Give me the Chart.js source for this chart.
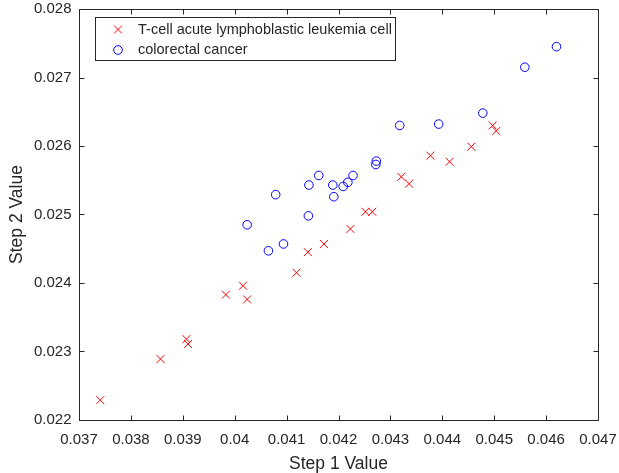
<!DOCTYPE html>
<html>
<head>
<meta charset="utf-8">
<script src="https://cdn.jsdelivr.net/npm/chart.js@4/dist/chart.umd.min.js"></script>
<style>
html, body { margin: 0; padding: 0; background: #fff; }
#wrap { width: 619px; height: 473px; position: relative; }
</style>
</head>
<body>
<div id="wrap"><canvas id="c" width="619" height="473"></canvas></div>
<script>
const seriesNames = ["T-cell acute lymphoblastic leukemia cell", "colorectal cancer"];
const leukemiaX = [0.03741, 0.03857, 0.03907, 0.03910, 0.03983, 0.04016, 0.04024, 0.04119, 0.04141, 0.04172, 0.04223, 0.04252, 0.04265, 0.04321, 0.04336, 0.04377, 0.04414, 0.04456, 0.04497, 0.04504];
const leukemiaY = [0.02229, 0.02289, 0.02318, 0.02311, 0.02383, 0.02396, 0.02376, 0.02415, 0.02445, 0.02457, 0.02479, 0.02504, 0.02504, 0.02555, 0.02545, 0.02586, 0.02577, 0.02599, 0.02630, 0.02622];
const colorectalX = [0.04024, 0.04065, 0.04094, 0.04142, 0.04079, 0.04143, 0.04162, 0.04189, 0.04191, 0.04209, 0.04218, 0.04228, 0.04272, 0.04273, 0.04318, 0.04393, 0.04478, 0.04559, 0.04620];
const colorectalY = [0.02485, 0.02447, 0.02457, 0.02498, 0.02529, 0.02543, 0.02557, 0.02543, 0.02526, 0.02541, 0.02547, 0.02557, 0.02573, 0.02578, 0.02630, 0.02632, 0.02648, 0.02715, 0.02745];
const xTicks = [0.037, 0.038, 0.039, 0.040, 0.041, 0.042, 0.043, 0.044, 0.045, 0.046, 0.047];
const yTicks = [0.022, 0.023, 0.024, 0.025, 0.026, 0.027, 0.028];
const xTitle = "Step 1 Value";
const yTitle = "Step 2 Value";

const FONT = "'Liberation Sans', Arial, Helvetica, sans-serif";
const AXIS_COLOR = "#262626";
const fmt = v => String(parseFloat(Number(v).toFixed(3)));

function pts(xs, ys) { return xs.map((x, i) => ({ x: x, y: ys[i] })); }
function noPad(s) { s.paddingLeft = 0; s.paddingRight = 0; s.paddingTop = 0; s.paddingBottom = 0; }

const boxTicksPlugin = {
  id: 'boxTicks',
  afterDatasetsDraw(chart) {
    const ctx = chart.ctx;
    const a = chart.chartArea;
    const L = Math.round(a.left) + 0.5, R = Math.round(a.right) + 0.5;
    const T = Math.round(a.top) + 0.5, B = Math.round(a.bottom) + 0.5;
    const tl = 5;
    ctx.save();
    ctx.strokeStyle = AXIS_COLOR;
    ctx.lineWidth = 1;
    ctx.beginPath();
    ctx.rect(L, T, R - L, B - T);
    const xs = chart.scales.x, ys = chart.scales.y;
    xs.ticks.forEach(t => {
      const p = Math.round(xs.getPixelForValue(t.value)) + 0.5;
      ctx.moveTo(p, B); ctx.lineTo(p, B - tl);
      ctx.moveTo(p, T); ctx.lineTo(p, T + tl);
    });
    ys.ticks.forEach(t => {
      const p = Math.round(ys.getPixelForValue(t.value)) + 0.5;
      ctx.moveTo(L, p); ctx.lineTo(L + tl, p);
      ctx.moveTo(R, p); ctx.lineTo(R - tl, p);
    });
    ctx.stroke();

    // legend box
    const bx = 95.5, by = 17.5, bw = 300, bh = 43;
    ctx.fillStyle = '#ffffff';
    ctx.fillRect(bx, by, bw, bh);
    ctx.strokeRect(bx, by, bw, bh);
    const rows = [29.5, 50];
    chart.data.datasets.forEach((ds, i) => {
      const cy = rows[i];
      ctx.strokeStyle = ds.borderColor;
      ctx.lineWidth = 1;
      ctx.beginPath();
      if (ds.pointStyle === 'crossRot') {
        const r = 3.9;
        ctx.moveTo(118 - r, cy - r); ctx.lineTo(118 + r, cy + r);
        ctx.moveTo(118 - r, cy + r); ctx.lineTo(118 + r, cy - r);
      } else {
        ctx.arc(118, cy, ds.pointRadius, 0, Math.PI * 2);
      }
      ctx.stroke();
      ctx.fillStyle = AXIS_COLOR;
      ctx.font = "14.5px " + FONT;
      ctx.textBaseline = 'middle';
      ctx.textAlign = 'left';
      ctx.fillText(ds.label, 138, cy);
    });
    ctx.restore();
  }
};

new Chart(document.getElementById('c'), {
  type: 'scatter',
  data: {
    datasets: [
      {
        label: seriesNames[0],
        data: pts(leukemiaX, leukemiaY),
        pointStyle: 'crossRot',
        pointRadius: 5.6,
        pointHoverRadius: 5.6,
        borderColor: '#ff0000',
        backgroundColor: 'rgba(0,0,0,0)',
        borderWidth: 1,
        pointBorderWidth: 1
      },
      {
        label: seriesNames[1],
        data: pts(colorectalX, colorectalY),
        pointStyle: 'circle',
        pointRadius: 4.3,
        pointHoverRadius: 4.3,
        borderColor: '#0000ff',
        backgroundColor: 'rgba(0,0,0,0)',
        borderWidth: 1,
        pointBorderWidth: 1
      }
    ]
  },
  options: {
    responsive: false,
    animation: false,
    events: [],
    layout: { padding: { left: 0, top: 9, right: 21, bottom: 0 } },
    plugins: {
      legend: { display: false },
      tooltip: { enabled: false }
    },
    scales: {
      x: {
        type: 'linear',
        min: xTicks[0],
        max: xTicks[xTicks.length - 1],
        afterBuildTicks: s => { s.ticks = xTicks.map(v => ({ value: v })); },
        afterFit: s => { s.height = 53; noPad(s); },
        border: { display: false },
        grid: { display: true, drawOnChartArea: false, drawTicks: false },
        ticks: {
          autoSkip: false,
          maxRotation: 0,
          minRotation: 0,
          padding: 11,
          color: AXIS_COLOR,
          font: { family: FONT, size: 15 },
          callback: v => fmt(v)
        },
        title: {
          display: true,
          text: xTitle,
          color: AXIS_COLOR,
          font: { family: FONT, size: 17.5, lineHeight: 1.2 },
          padding: { top: 0, bottom: -1.5 }
        }
      },
      y: {
        type: 'linear',
        min: yTicks[0],
        max: yTicks[yTicks.length - 1],
        afterBuildTicks: s => { s.ticks = yTicks.map(v => ({ value: v })); },
        afterFit: s => { s.width = 79; noPad(s); },
        border: { display: false },
        grid: { display: true, drawOnChartArea: false, drawTicks: false },
        ticks: {
          autoSkip: false,
          padding: 7.5,
          color: AXIS_COLOR,
          font: { family: FONT, size: 15 },
          callback: v => fmt(v)
        },
        title: {
          display: true,
          text: yTitle,
          color: AXIS_COLOR,
          font: { family: FONT, size: 17.5, lineHeight: 1.2 },
          padding: { top: 7, bottom: 0 }
        }
      }
    }
  },
  plugins: [boxTicksPlugin]
});
</script>
</body>
</html>
